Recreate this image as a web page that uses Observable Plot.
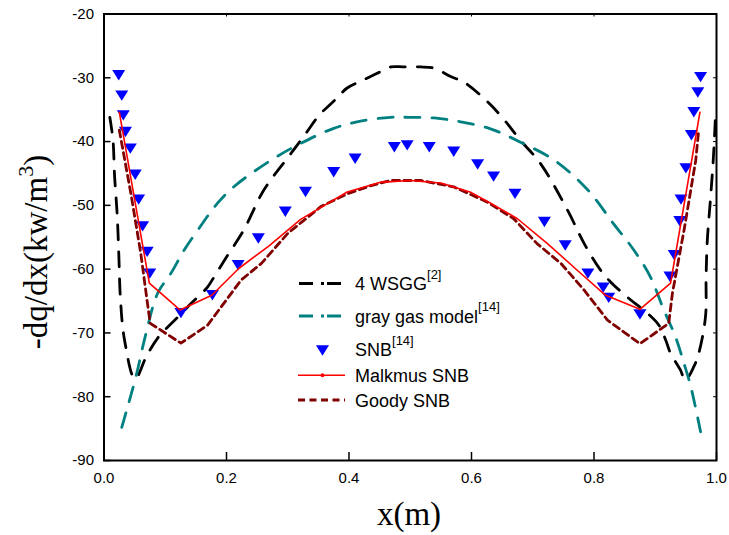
<!DOCTYPE html>
<html><head><meta charset="utf-8">
<script src="https://cdn.jsdelivr.net/npm/d3@7"></script>
<script src="https://cdn.jsdelivr.net/npm/@observablehq/plot@0.6"></script>
<style>body{margin:0;background:#fff}</style>
</head><body><div id="chart"></div>
<script>
// ---- data ----
const xTicks = [0.0, 0.2, 0.4, 0.6, 0.8, 1.0];
const yTicks = [-90, -80, -70, -60, -50, -40, -30, -20];

const wsggX = [0.0095,0.0147,0.0172,0.0216,0.0242,0.027,0.0335,0.0506,0.07,0.09,0.107,0.126,0.142,0.169,0.183,0.2,0.228,0.261,0.305,0.329,0.351,0.378,0.397,0.422,0.446,0.468,0.49,0.517,0.539,0.566,0.588,0.612,0.634,0.656,0.68,0.713,0.757,0.784,0.811,0.827,0.857,0.887,0.906,0.917,0.925,0.941,0.949,0.963,0.971,0.982,0.983,0.985,0.99,0.995,0.998];
const wsggY = [-36.2,-39.8,-45.3,-51.6,-57.8,-64.9,-71.1,-77.2,-73.5,-70.5,-68.8,-67,-65.4,-62.8,-60.7,-58.1,-53.9,-47.6,-41.9,-38.8,-35.9,-33.4,-31.6,-30.4,-29.3,-28.3,-28.3,-28.3,-28.5,-29.8,-30.7,-32.5,-34.5,-36.9,-39.8,-43.5,-50.8,-56,-60.2,-62,-64.6,-66.9,-68.8,-71.1,-73.2,-75.8,-77.4,-75.3,-73.2,-67.5,-61.2,-55.5,-49.2,-42.4,-36.7];

const grayX = [0.029,0.0385,0.052,0.0685,0.0875,0.109,0.131,0.153,0.185,0.213,0.273,0.321,0.373,0.419,0.468,0.498,0.539,0.582,0.631,0.68,0.735,0.79,0.832,0.865,0.892,0.914,0.933,0.947,0.958,0.974];
const grayY = [-84.8,-81.6,-76.9,-70.1,-63.8,-60.7,-57,-53.9,-49.7,-47.0,-42.9,-40.3,-38,-36.8,-36.2,-36.2,-36.3,-36.9,-38,-40.1,-42.9,-47.6,-52.9,-57,-61.2,-66.4,-70.6,-74.8,-78.4,-85.5];

const snbX = [0.024,0.029,0.0315,0.035,0.043,0.051,0.0565,0.063,0.0705,0.0747,0.1256,0.177,0.219,0.252,0.296,0.329,0.375,0.41,0.474,0.495,0.531,0.571,0.61,0.636,0.671,0.719,0.753,0.79,0.815,0.824,0.875,0.924,0.931,0.940,0.942,0.950,0.959,0.963,0.9695,0.974];
const snbY = [-29.6,-32.8,-35.9,-38.5,-41.1,-45.2,-49.1,-53.3,-57.3,-60.7,-66.9,-64.1,-59.4,-55.2,-51.0,-47.9,-44.8,-42.7,-40.9,-40.6,-40.9,-41.6,-43.6,-45.5,-48.2,-52.6,-56.3,-60.7,-62.9,-64.5,-67.1,-61.2,-57.8,-52.5,-49.1,-44.2,-39.0,-35.4,-32.3,-29.9];

const malkX = [0.025,0.074,0.124,0.176,0.22,0.27,0.321,0.36,0.397,0.45,0.5,0.55,0.6,0.632,0.675,0.724,0.78,0.819,0.875,0.925,0.973];
const malkY = [-35.4,-62.2,-66.4,-64.1,-59.9,-56.3,-52.2,-50.0,-47.9,-46.4,-46.1,-46.5,-48.0,-49.7,-52.1,-56.0,-60.8,-64.1,-66.3,-62.2,-35.4];

const goodyX = [0.025,0.044,0.06,0.071,0.0755,0.1256,0.169,0.224,0.257,0.3,0.354,0.397,0.436,0.468,0.517,0.571,0.626,0.669,0.707,0.746,0.784,0.822,0.875,0.922,0.928,0.947,0.966,0.971];
const goodyY = [-38.2,-48.2,-57.5,-65.4,-68.5,-71.6,-68.8,-61.7,-59.1,-54.4,-50.2,-48.2,-46.9,-46.1,-46.1,-47.1,-49.5,-52.1,-56,-59.1,-63.3,-68,-71.7,-68.5,-63.8,-53.9,-43,-38.2];

const legendLabels = [["4 WSGG","[2]"],["gray gas model","[14]"],["SNB","[14]"],["Malkmus SNB",""],["Goody SNB",""]];
const xLabel = "x(m)";
const yLabelMain = "-dq/dx(kw/m", yLabelSup = "3", yLabelEnd = ")";

// ---- build ----
const zip = (xs, ys) => xs.map((x, i) => ({x, y: ys[i]}));
const wsgg = zip(wsggX, wsggY), gray = zip(grayX, grayY), snb = zip(snbX, snbY),
      malk = zip(malkX, malkY), goody = zip(goodyX, goodyY);

const W = 729, H = 535, mL = 103.5, mR = 13, mT = 13.5, mB = 75;
const pw = W - mL - mR, ph = H - mT - mB;

const downTriangle = {draw(ctx, size) {
  const r = Math.sqrt(size / Math.PI), w = r, h = r * 0.8;
  ctx.moveTo(-w, -h); ctx.lineTo(w, -h); ctx.lineTo(0, h); ctx.closePath();
}};

const C_WSGG = "#000000", C_GRAY = "#008080", C_SNB = "#0000ff", C_MALK = "#ff0000", C_GOODY = "#800000";
const DASH_CURVE = "15,12", DASH_DOT = "14,8,3,3", DASH_SHORT = "7,4.5";

const chart = Plot.plot({
  width: W, height: H, marginLeft: mL, marginRight: mR, marginTop: mT, marginBottom: mB,
  style: {fontFamily: "'Liberation Sans', Arial, sans-serif", fontSize: "15px", background: "#fff", color: "#000"},
  x: {domain: [0, 1], ticks: xTicks, tickSize: 0, tickPadding: 12, tickFormat: d3.format(".1f"), label: null},
  y: {domain: [-90, -20], ticks: yTicks, tickSize: 0, tickPadding: 10, tickFormat: d => String(d), label: null},
  marks: [
    Plot.line(wsgg, {x: "x", y: "y", stroke: C_WSGG, strokeWidth: 2.8, strokeDasharray: DASH_CURVE, curve: "catmull-rom"}),
    Plot.line(gray, {x: "x", y: "y", stroke: C_GRAY, strokeWidth: 2.8, strokeDasharray: DASH_CURVE, curve: "catmull-rom"}),
    Plot.dot(snb, {x: "x", y: "y", symbol: downTriangle, r: 6.5, fill: C_SNB, stroke: "none"}),
    Plot.line(goody, {x: "x", y: "y", stroke: C_GOODY, strokeWidth: 2.8, strokeDasharray: DASH_SHORT}),
    Plot.line(malk, {x: "x", y: "y", stroke: C_MALK, strokeWidth: 1.6}),
    Plot.frame({stroke: "#000", strokeWidth: 2}),
    Plot.ruleX(xTicks, {x: d => d, insetTop: ph - 8, stroke: "#000", strokeWidth: 1.5}),
    Plot.ruleX(xTicks, {x: d => d, insetBottom: ph - 3, stroke: "#000", strokeWidth: 1}),
    Plot.ruleY(yTicks, {y: d => d, insetRight: pw - 7, stroke: "#000", strokeWidth: 1.5}),
    Plot.ruleY(yTicks, {y: d => d, insetLeft: pw - 3, stroke: "#000", strokeWidth: 1})
  ]
});
document.getElementById("chart").appendChild(chart);

// ---- legend & axis titles ----
const svg = d3.select(chart);
const lg = svg.append("g").attr("font-family", "'Liberation Sans', Arial, sans-serif")
  .attr("fill", "#000").attr("text-anchor", "start");
const baselines = [290, 322.5, 356, 381.7, 406.5];
const lx0 = 299, lx1 = 342, tx = 355;
legendLabels.forEach(([main, sup], i) => {
  const by = baselines[i], ly = by - 6.5;
  if (i === 0 || i === 1) {
    lg.append("line").attr("x1", lx0).attr("x2", lx1 + 1).attr("y1", ly).attr("y2", ly)
      .attr("stroke", i === 0 ? C_WSGG : C_GRAY).attr("stroke-width", 2.8).attr("stroke-dasharray", DASH_DOT);
  } else if (i === 2) {
    lg.append("path").attr("transform", `translate(${(lx0 + lx1) / 2 + 2},${by - 5.5})`)
      .attr("d", d3.symbol(downTriangle, 6.5 * 6.5 * Math.PI)()).attr("fill", C_SNB);
  } else if (i === 3) {
    lg.append("line").attr("x1", lx0 - 1).attr("x2", lx1 + 3).attr("y1", ly).attr("y2", ly)
      .attr("stroke", C_MALK).attr("stroke-width", 1.6);
    lg.append("circle").attr("cx", (lx0 + lx1) / 2 + 2).attr("cy", ly).attr("r", 2).attr("fill", C_MALK);
  } else {
    lg.append("line").attr("x1", lx0 - 1).attr("x2", lx1 + 3).attr("y1", ly).attr("y2", ly)
      .attr("stroke", C_GOODY).attr("stroke-width", 2.8).attr("stroke-dasharray", DASH_SHORT);
  }
  const t = lg.append("text").attr("x", tx).attr("y", by).attr("font-size", 18);
  t.append("tspan").text(main);
  if (sup) t.append("tspan").attr("font-size", 13).attr("dy", -11.5).text(sup);
});

svg.append("text").attr("x", 409).attr("y", 525).attr("text-anchor", "middle")
  .attr("font-family", "'Liberation Serif', 'Times New Roman', serif").attr("font-size", 33).attr("fill", "#000").text(xLabel);

const yl = svg.append("text").attr("transform", "translate(47,252) rotate(-90)").attr("text-anchor", "middle")
  .attr("font-family", "'Liberation Serif', 'Times New Roman', serif").attr("font-size", 33).attr("fill", "#000");
yl.append("tspan").text(yLabelMain);
yl.append("tspan").attr("font-size", 22).attr("dy", -14).text(yLabelSup);
yl.append("tspan").attr("dy", 14).text(yLabelEnd);
</script>
</body></html>
